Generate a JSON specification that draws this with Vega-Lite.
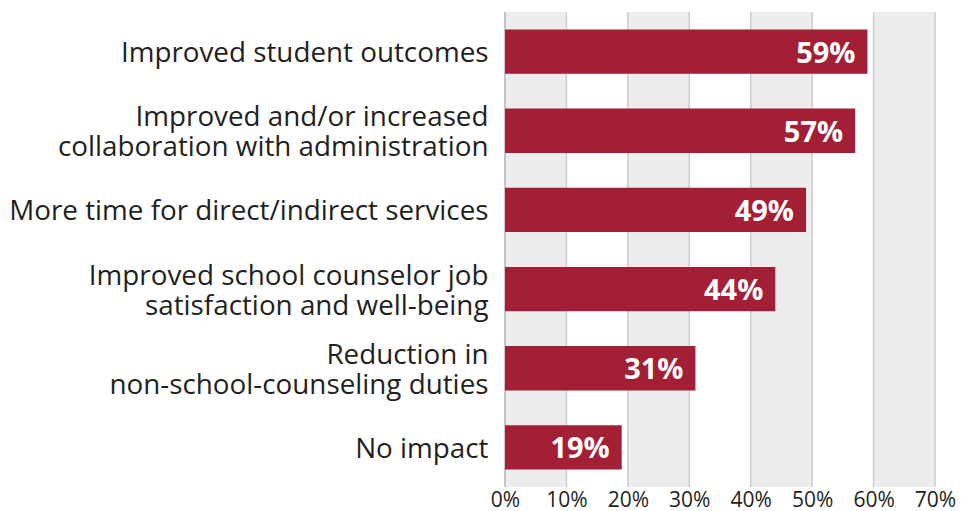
{
  "$schema": "https://vega.github.io/schema/vega-lite/v6.json",
  "width": 430,
  "height": 475,
  "autosize": {"type": "none"},
  "padding": {"left": 505, "top": 12, "right": 31, "bottom": 24},
  "background": "white",
  "config": {"view": {"stroke": null}, "font": "Open Sans"},
  "datasets": {
    "bars": [
      {"label": "Improved student outcomes", "value": 0.59},
      {"label": "Improved and/or increased|collaboration with administration", "value": 0.57},
      {"label": "More time for direct/indirect services", "value": 0.49},
      {"label": "Improved school counselor job|satisfaction and well-being", "value": 0.44},
      {"label": "Reduction in|non-school-counseling duties", "value": 0.31},
      {"label": "No impact", "value": 0.19}
    ],
    "bands": [
      {"start": 0, "end": 0.1},
      {"start": 0.2, "end": 0.3},
      {"start": 0.4, "end": 0.5},
      {"start": 0.6, "end": 0.7}
    ],
    "grid": [
      {"v": 0}, {"v": 0.1}, {"v": 0.2}, {"v": 0.3}, {"v": 0.4}, {"v": 0.5}, {"v": 0.6}, {"v": 0.7}
    ]
  },
  "layer": [
    {
      "data": {"name": "bands"},
      "mark": {"type": "rect", "color": "#ededed"},
      "encoding": {
        "x": {"field": "start", "type": "quantitative", "scale": {"domain": [0, 0.7], "nice": false}},
        "x2": {"field": "end"}
      }
    },
    {
      "data": {"name": "grid"},
      "mark": {"type": "rule", "strokeWidth": 1.5},
      "encoding": {
        "x": {"field": "v", "type": "quantitative"},
        "color": {"condition": {"test": "datum.v == 0", "value": "#b4b4b4"}, "value": "#cccccc"}
      }
    },
    {
      "data": {"name": "bars"},
      "mark": {"type": "bar", "color": "#a31f36"},
      "encoding": {
        "y": {
          "field": "label", "type": "nominal", "sort": null,
          "scale": {"paddingInner": 0.44, "paddingOuter": 0.22},
          "axis": {
            "title": null, "domain": false, "ticks": false,
            "labelExpr": "split(datum.value, '|')",
            "labelFont": "Open Sans", "labelFontSize": 27.8, "labelColor": "#231f20",
            "labelPadding": 17, "labelLineHeight": 30, "labelLimit": 600,
            "labelOffset": {"condition": {"test": "indexof(datum.value, '|') >= 0", "value": -12.5}, "value": 2.5}
          }
        },
        "x": {
          "field": "value", "type": "quantitative",
          "scale": {"domain": [0, 0.7], "nice": false},
          "axis": {
            "title": null, "domain": false, "ticks": false, "grid": false,
            "values": [0, 0.1, 0.2, 0.3, 0.4, 0.5, 0.6, 0.7],
            "format": ".0%",
            "labelFont": "Open Sans", "labelFontSize": 21, "labelColor": "#231f20",
            "labelPadding": 2, "labelFlush": false
          }
        }
      }
    },
    {
      "data": {"name": "bars"},
      "mark": {"type": "text", "align": "right", "baseline": "middle", "dx": -12, "dy": 2, "font": "Open Sans", "fontWeight": "bold", "fontSize": 29, "color": "white"},
      "encoding": {
        "y": {"field": "label", "type": "nominal", "sort": null},
        "x": {"field": "value", "type": "quantitative"},
        "text": {"field": "value", "type": "quantitative", "format": ".0%"}
      }
    }
  ]
}
